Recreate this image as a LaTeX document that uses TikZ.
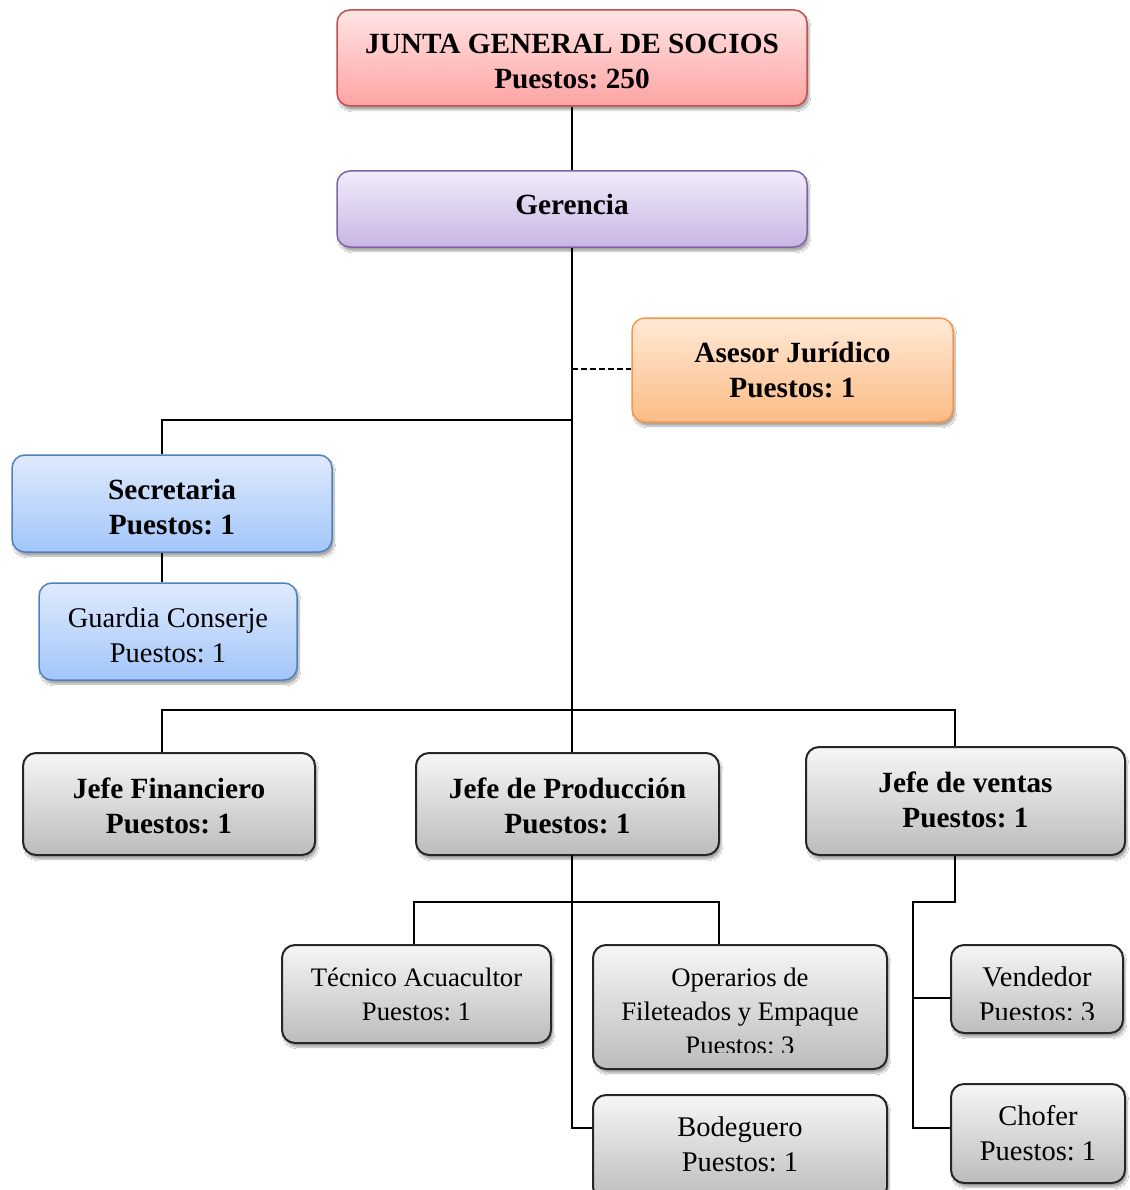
\documentclass[tikz,border=0pt]{standalone}
\usepackage{fontspec}
\setmainfont{Liberation Serif}
\usetikzlibrary{shadows.blur}
\frenchspacing

\definecolor{juntaedge}{RGB}{192,80,77}
\definecolor{juntatop}{RGB}{255,228,228}
\definecolor{juntabot}{RGB}{255,163,163}
\definecolor{geredge}{RGB}{128,100,162}
\definecolor{gertop}{RGB}{241,235,249}
\definecolor{gerbot}{RGB}{200,182,228}
\definecolor{asedge}{RGB}{247,150,70}
\definecolor{astop}{RGB}{255,233,214}
\definecolor{asbot}{RGB}{252,188,134}
\definecolor{bluedge}{RGB}{79,129,189}
\definecolor{bluetop}{RGB}{222,234,253}
\definecolor{bluebot}{RGB}{163,198,249}
\definecolor{graytop}{RGB}{246,246,246}
\definecolor{graybot}{RGB}{188,188,188}

\newcommand\orgbold{\fontsize{29.3}{35}\selectfont\bfseries}
\newcommand\orgreg{\fontsize{28.5}{35}\selectfont}
\newcommand\orgsmall{\fontsize{26.7}{34}\selectfont}

\tikzset{
  boxbase/.style={draw, rounded corners=13pt, line width=1.5pt, inner sep=0pt,
    blur shadow={shadow xshift=2pt, shadow yshift=-4pt,
    shadow blur steps=6, shadow opacity=35}},
  juntabox/.style={boxbase, draw=juntaedge, top color=juntatop, bottom color=juntabot},
  gerbox/.style={boxbase, draw=geredge, top color=gertop, bottom color=gerbot},
  asesbox/.style={boxbase, draw=asedge, top color=astop, bottom color=asbot},
  bluebox/.style={boxbase, draw=bluedge, top color=bluetop, bottom color=bluebot},
  graybox/.style={boxbase, draw=black!85, line width=2pt, top color=graytop, bottom color=graybot},
  txt/.style={inner sep=0pt, align=center},
  conn/.style={draw=black, line width=2.8pt},
  thinconn/.style={draw=black, line width=1.7pt},
  dashconn/.style={draw=black, line width=2.4pt, dash pattern=on 6pt off 3pt},
}

\begin{document}
\begin{tikzpicture}[x=1pt, y=-1pt]
\useasboundingbox[fill=white] (0,0) rectangle (1129,1190);

% junction points on the connectors
\coordinate (tA) at (572,420);
\coordinate (lA) at (162,420);
\coordinate (tD) at (572,369);
\coordinate (lB) at (162,710);
\coordinate (rB) at (955,710);
\coordinate (pS) at (572,855);
\coordinate (pL) at (414,902);
\coordinate (pR) at (719,902);
\coordinate (pB) at (572,1128);
\coordinate (v1) at (955,902);
\coordinate (v2) at (913,902);
\coordinate (v3) at (913,998);
\coordinate (v4) at (913,1128);

% boxes
\node[juntabox, minimum width=470pt, minimum height=96pt] (junta) at (572,58) {};
\node[gerbox, minimum width=470pt, minimum height=76pt] (ger) at (572,209) {};
\node[asesbox, minimum width=321pt, minimum height=104pt] (ases) at (792.5,370) {};
\node[bluebox, minimum width=320pt, minimum height=97pt] (secr) at (172,503.5) {};
\node[bluebox, minimum width=258pt, minimum height=97pt] (guard) at (168,631.5) {};
\node[graybox, minimum width=292pt, minimum height=102pt] (jfin) at (169,804) {};
\node[graybox, minimum width=303pt, minimum height=102pt] (jprod) at (567.5,804) {};
\node[graybox, minimum width=319pt, minimum height=108pt] (jven) at (965.5,801) {};
\node[graybox, minimum width=269pt, minimum height=98pt] (tec) at (416.5,994) {};
\node[graybox, minimum width=294pt, minimum height=124pt] (oper) at (740,1007) {};
\node[graybox, minimum width=294pt, minimum height=105pt] (bod) at (740,1147.5) {};
\node[graybox, minimum width=172pt, minimum height=88pt] (vend) at (1037,989) {};
\node[graybox, minimum width=174pt, minimum height=99pt] (chof) at (1038,1133.5) {};

% connectors
\draw[conn] (junta.south) -- (ger.north);
\draw[conn] (ger.south) -- (ger.south |- jprod.north);
\draw[dashconn] (tD) -- (tD -| ases.west);
\draw[conn] (tA) -- (lA) -- (lA |- secr.north);
\draw[thinconn] (lA |- secr.south) -- (lA |- guard.north);
\draw[conn] (lB |- jfin.north) -- (lB) -- (rB) -- (rB |- jven.north);
\draw[conn] (pS) -- (pB) -- (pB -| bod.west);
\draw[conn] (pL |- tec.north) -- (pL) -- (pR) -- (pR |- oper.north);
\draw[conn] (rB |- jven.south) -- (v1) -- (v2) -- (v4) -- (v4 -| chof.west);
\draw[conn] (v3) -- (v3 -| vend.west);

% labels
\node[txt, font=\orgbold] (juntaT) at ([yshift=-4pt]junta.center)
  {JUNTA GENERAL DE SOCIOS\\Puestos: 250};
\node[txt, font=\orgbold] (gerT) at ([yshift=5pt]ger.center) {Gerencia};
\node[txt, font=\orgbold] (asesT) at (ases.center) {Asesor Jurídico\\Puestos: 1};
\node[txt, font=\orgbold] (secrT) at ([yshift=-4pt]secr.center) {Secretaria\\Puestos: 1};
\node[txt, font=\orgreg] (guardT) at ([yshift=-4pt]guard.center) {Guardia Conserje\\Puestos: 1};
\node[txt, font=\orgbold] (jfinT) at ([yshift=-2pt]jfin.center) {Jefe Financiero\\Puestos: 1};
\node[txt, font=\orgbold] (jprodT) at ([yshift=-2pt]jprod.center) {Jefe de Producción\\Puestos: 1};
\node[txt, font=\orgbold] (jvenT) at ([yshift=1.5pt]jven.center) {Jefe de ventas\\Puestos: 1};
\node[txt, font=\orgsmall] (tecT) at (tec.center) {Técnico Acuacultor\\Puestos: 1};
\begin{scope}
  \clip (oper.north west) rectangle ([yshift=18pt]oper.south east);
  \node[txt, font=\orgsmall] (operT) at ([yshift=-4pt]oper.center)
    {Operarios de\\Fileteados y Empaque\\Puestos: 3};
\end{scope}
\node[txt, font=\orgreg] (bodT) at ([yshift=3.5pt]bod.center) {Bodeguero\\Puestos: 1};
\begin{scope}
  \clip (vend.north west) rectangle ([yshift=15pt]vend.south east);
  \node[txt, font=\orgreg] (vendT) at ([yshift=-5pt]vend.center) {Vendedor\\Puestos: 3};
\end{scope}
\node[txt, font=\orgreg] (chofT) at (chof.center) {Chofer\\Puestos: 1};
\end{tikzpicture}
\end{document}
